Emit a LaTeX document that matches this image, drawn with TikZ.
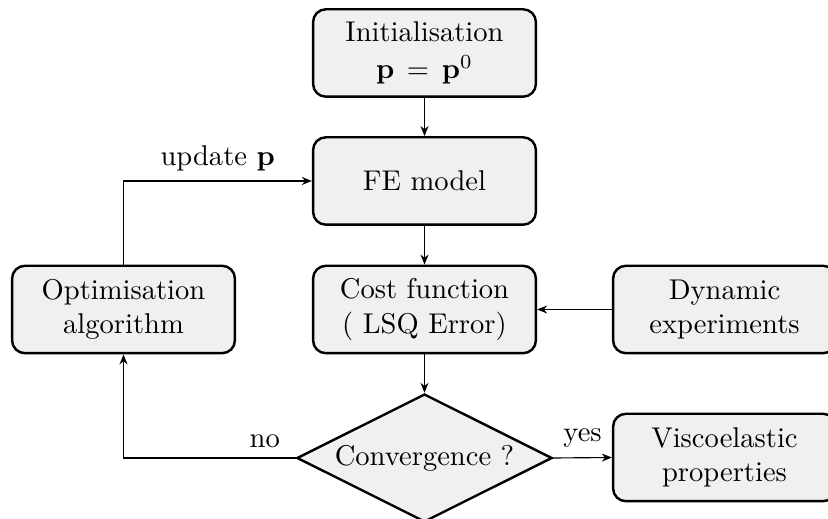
\documentclass[tikz,border=0pt]{standalone}
\usetikzlibrary{shapes.geometric,arrows.meta,positioning}
\definecolor{boxfill}{RGB}{240,240,240}
\begin{document}
\begin{tikzpicture}[x=0.35pt,y=-0.35pt,
  procbox/.style={draw,line width=0.85pt,fill=boxfill,rounded corners=4.5pt,
    minimum width=78pt,minimum height=30.6pt,align=center,inner sep=2pt},
  decbox/.style={draw,line width=0.85pt,fill=boxfill,diamond,aspect=2,
    minimum width=89.3pt,minimum height=44.8pt,inner sep=0pt},
  conn/.style={-{Stealth[length=3.5pt,width=2.8pt]},line width=0.4pt}]
\useasboundingbox (0,0) rectangle (828,519);
\node[procbox] (init) at (424.5,53) {Initialisation\\[1pt] $\mathbf{p}\,=\,\mathbf{p}^0$};
\node[procbox] (fe) at (424.5,181) {FE model};
\node[procbox] (cost) at (424.5,309.5) {Cost function\\ ( LSQ Error)};
\node[procbox] (opt) at (123.5,309.5) {Optimisation\\ algorithm};
\node[procbox] (dyn) at (724.5,309.5) {Dynamic\\ experiments};
\node[decbox] (conv) at (424.5,458) {Convergence ?};
\node[procbox] (visc) at (724.5,457.5) {Viscoelastic\\ properties};
\draw[conn] (init) -- (fe);
\draw[conn] (fe) -- (cost);
\draw[conn] (cost) -- (conv);
\draw[conn] (dyn) -- (cost);
\draw[conn] (conv.east) -- node[above,pos=0.5] {yes} (visc.west);
\draw[conn] (conv.west) -| node[above,pos=0.09] {no} (opt.south);
\draw[conn] (opt.north) |- node[above,pos=0.75] {update $\mathbf{p}$} (fe.west);
\end{tikzpicture}
\end{document}
